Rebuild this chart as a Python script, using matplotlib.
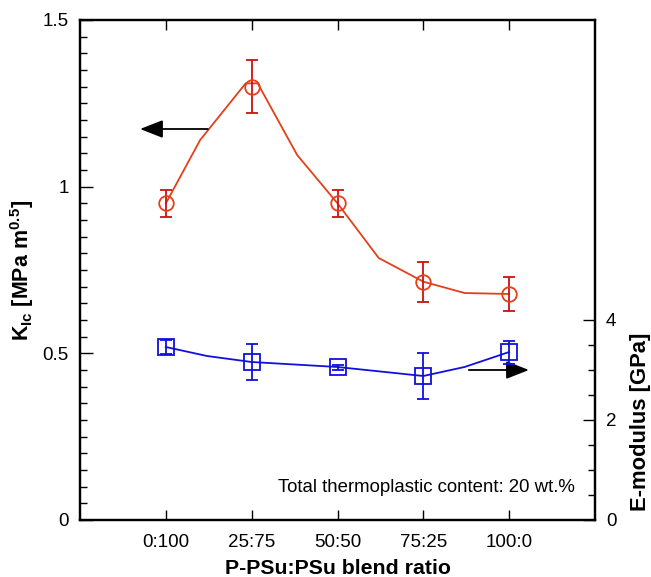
import matplotlib
matplotlib.use("Agg")
import matplotlib.pyplot as plt
from matplotlib.ticker import MultipleLocator, FixedLocator, NullFormatter

plt.rcParams['font.family'] = ['Liberation Sans', 'DejaVu Sans']
plt.rcParams['mathtext.fontset'] = 'custom'
plt.rcParams['mathtext.rm'] = 'Liberation Sans'
plt.rcParams['mathtext.bf'] = 'Liberation Sans:bold'

# Blend ratios (P-PSu:PSu)
categories = ['0:100', '25:75', '50:50', '75:25', '100:0']

# Fracture toughness K_Ic [MPa m^0.5]
kic = [0.95, 1.30, 0.95, 0.715, 0.678]
kic_err = [0.04, 0.08, 0.04, 0.06, 0.05]
# smoothed guide line through the K_Ic points
kic_curve_x = [0, 0.40, 0.93, 1.07, 1.53, 2, 2.48, 3, 3.48, 4]
kic_curve_y = [0.95, 1.14, 1.31, 1.31, 1.095, 0.95, 0.786, 0.715, 0.681, 0.678]

# E-modulus [GPa]
emod = [3.46, 3.16, 3.06, 2.88, 3.36]
emod_err = [0.14, 0.36, 0.05, 0.46, 0.23]
# smoothed guide line through the modulus points
emod_curve_x = [0, 0.48, 1, 2, 3, 3.48, 4]
emod_curve_y = [3.46, 3.28, 3.16, 3.06, 2.88, 3.06, 3.36]

note = 'Total thermoplastic content: 20 wt.%'

RED_LINE = '#e2401a'
RED_ERR = '#cc1111'
BLUE = '#1010dd'

fig = plt.figure(figsize=(6.51, 5.77), dpi=100)
ax = fig.add_axes([80 / 651, 1 - 520 / 577, 515 / 651, 500 / 577])
ax2 = ax.twinx()

x = list(range(len(categories)))

# K_Ic series (left axis)
ax.plot(kic_curve_x, kic_curve_y, color=RED_LINE, lw=1.3, zorder=3)
ax.errorbar(x, kic, yerr=kic_err, fmt='none', ecolor=RED_ERR, elinewidth=1.3,
            capsize=4.5, capthick=1.3, zorder=4)
ax.plot(x, kic, 'o', ms=10.5, mfc='none', mec=RED_LINE, mew=1.3, zorder=5)

# E-modulus series (right axis)
ax2.plot(emod_curve_x, emod_curve_y, color=BLUE, lw=1.3, zorder=3)
ax2.errorbar(x, emod, yerr=emod_err, fmt='none', ecolor=BLUE, elinewidth=1.3,
             capsize=4.5, capthick=1.3, zorder=4)
ax2.plot(x, emod, 's', ms=11, mfc='none', mec=BLUE, mew=1.3, zorder=5)

# axis ranges
ax.set_xlim(-1, 5)
ax.set_ylim(0, 1.5)
ax2.set_ylim(0, 10)

# x ticks
ax.set_xticks(x)
ax.set_xticklabels(categories)
ax.tick_params(axis='x', which='major', direction='in', length=7, width=1,
               top=True, labelsize=13.5, pad=10)

# left y ticks
ax.set_yticks([0, 0.5, 1, 1.5])
ax.set_yticklabels(['0', '0.5', '1', '1.5'])
ax.yaxis.set_minor_locator(MultipleLocator(0.05))
ax.tick_params(axis='y', which='major', direction='in', length=9, width=1,
               labelsize=13.5, pad=8)
ax.tick_params(axis='y', which='minor', direction='in', length=5, width=1)

# right y ticks
ax2.yaxis.set_major_locator(FixedLocator([0, 2, 4]))
ax2.yaxis.set_minor_locator(FixedLocator([0.5, 1, 1.5, 2.5, 3, 3.5]))
ax2.yaxis.set_minor_formatter(NullFormatter())
ax2.tick_params(axis='y', which='major', direction='in', length=9, width=1,
                labelsize=13.5, pad=8)
ax2.tick_params(axis='y', which='minor', direction='in', length=5, width=1)

for a in (ax, ax2):
    for s in a.spines.values():
        s.set_linewidth(1.6)

# axis labels
ax.set_xlabel('P-PSu:PSu blend ratio', fontsize=15.3, fontweight='bold', labelpad=6)
ax.set_ylabel(r'$\mathbf{K_{Ic}}$ [MPa m$^{\mathbf{0.5}}$]', fontsize=15.5,
              fontweight='bold')
ax.yaxis.set_label_coords(-0.085, 0.5)
ax2.set_ylabel('E-modulus [GPa]', fontsize=15.8, fontweight='bold')
ax2.yaxis.set_label_coords(1.067, 0.196)

# arrows pointing to each series' axis
ax.annotate('', xy=(-0.30, 1.173), xytext=(0.49, 1.173),
            arrowprops=dict(arrowstyle='-|>,head_length=1.4,head_width=0.55',
                            color='black', lw=1.3, shrinkA=0, shrinkB=0))
ax2.annotate('', xy=(4.23, 3.0), xytext=(3.53, 3.0),
             arrowprops=dict(arrowstyle='-|>,head_length=1.4,head_width=0.55',
                             color='black', lw=1.3, shrinkA=0, shrinkB=0))

ax.text(0.961, 0.064, note, transform=ax.transAxes, ha='right', va='center',
        fontsize=13.4)

fig.savefig('out.png', dpi=100)
